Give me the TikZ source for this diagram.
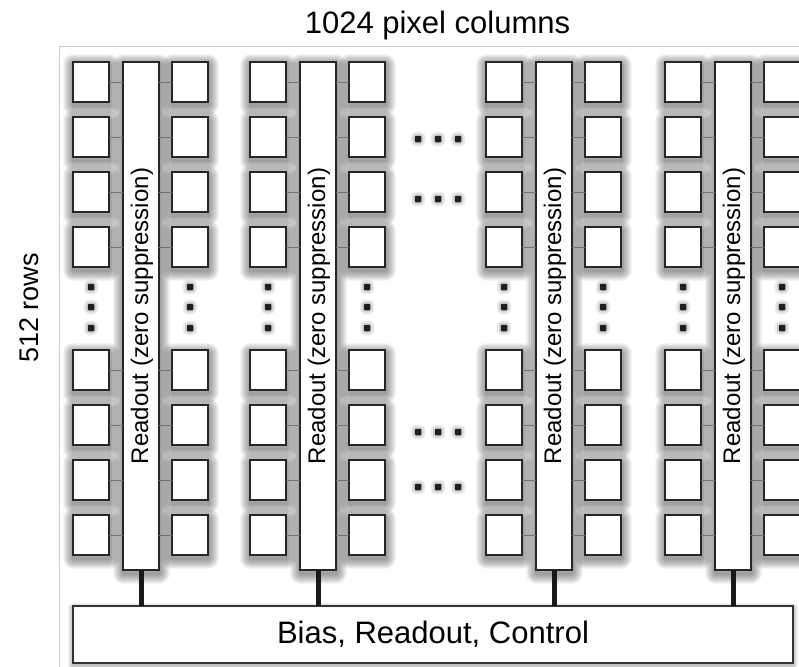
\documentclass[tikz,border=0pt]{standalone}
\usepackage{fontspec}
\setmainfont{Liberation Sans}
\begin{document}
\begin{tikzpicture}[x=1pt,y=-1pt,
  sh/.style={preaction={draw=black,opacity=0.045,line width=#1,line join=round,transform canvas={yshift=-3pt}}},
  softshadow/.style={sh=21pt, sh=19pt, sh=17pt, sh=15pt, sh=13pt, sh=11pt, sh=9pt, sh=7pt, sh=5pt, sh=3pt},
  lsh/.style={preaction={draw=black,opacity=0.05,line width=#1,line join=round,transform canvas={yshift=-1.5pt}}},
  lightshadow/.style={lsh=10pt, lsh=8pt, lsh=6pt, lsh=4pt, lsh=2pt},
  pixel/.style={softshadow, draw=black!85, line width=1.8pt, fill=white,
    minimum width=36pt, minimum height=40pt, inner sep=0pt, outer sep=0pt, anchor=north west},
  readout/.style={softshadow, draw=black!85, line width=1.8pt, fill=white,
    minimum width=36pt, minimum height=508pt, inner sep=0pt, outer sep=0pt, anchor=north west},
  control/.style={lightshadow, draw=black!80, line width=1.6pt, fill=white,
    minimum width=720pt, minimum height=57pt, inner sep=0pt, outer sep=0pt},
  dotmark/.style={fill=black!88, minimum size=6.5pt, inner sep=0pt, rounded corners=1pt,
    preaction={draw=black,opacity=0.08,line width=8pt,line join=round},
    preaction={draw=black,opacity=0.10,line width=4pt,line join=round}},
  wire/.style={draw=black!55, line width=0.9pt},
  bus/.style={draw=black!90, line width=5pt},
  readlabel/.style={rotate=90, anchor=base, inner sep=0pt, font=\fontsize{24}{28}\selectfont}
]
\useasboundingbox (0,0) rectangle (799,666);
\clip (0,0) rectangle (799,666);
\fill[white] (0,0) rectangle (799,666);

% chip outline
\draw[black!20, line width=1pt] (59,47) rectangle (830,700);

% title and row count
\node[anchor=base, inner sep=0pt, font=\fontsize{31}{36}\selectfont] (title) at (437.5,34) {1024 pixel columns};
\node[rotate=90, anchor=base, inner sep=0pt, font=\fontsize{27}{32}\selectfont] (rows) at (38,308) {512 rows};

% column groups: pixel column, readout bar, pixel column
\foreach \g/\x in {1/73, 2/250, 3/486, 4/665} {
  \node[readout] (bar\g) at (\x+50,62) {};
  \node[readlabel] (lbl\g) at (\x+75,316) {Readout (zero suppression)};
  \foreach \r/\y in {1/62,2/117,3/172,4/227,5/350,6/405,7/460,8/515} {
    \node[pixel] (L\g-\r) at (\x,\y) {};
    \node[pixel] (R\g-\r) at (\x+99,\y) {};
  }
  \foreach \k/\y in {1/287,2/307,3/328} {
    \node[dotmark] (vl\g-\k) at (\x+18,\y) {};
    \node[dotmark] (vr\g-\k) at (\x+117,\y) {};
  }
}

% pixel to readout links
\foreach \g in {1,...,4} {
  \foreach \r in {1,...,8} {
    \draw[wire] (L\g-\r.east) -- (L\g-\r.east -| bar\g.west);
    \draw[wire] (R\g-\r.west) -- (R\g-\r.west -| bar\g.east);
  }
}

% horizontal ellipses between the groups
\foreach \h/\y in {1/139,2/199,3/432,4/487} {
  \foreach \k/\x in {1/418,2/438,3/458} {
    \node[dotmark] (hd\h-\k) at (\x,\y) {};
  }
}

% periphery
\node[control, font=\fontsize{31}{36}\selectfont] (bias) at (433,634.5) {Bias, Readout, Control};
\foreach \g in {1,...,4} {
  \draw[bus] (bar\g.south) -- (bar\g.south |- bias.north);
}
\end{tikzpicture}
\end{document}
